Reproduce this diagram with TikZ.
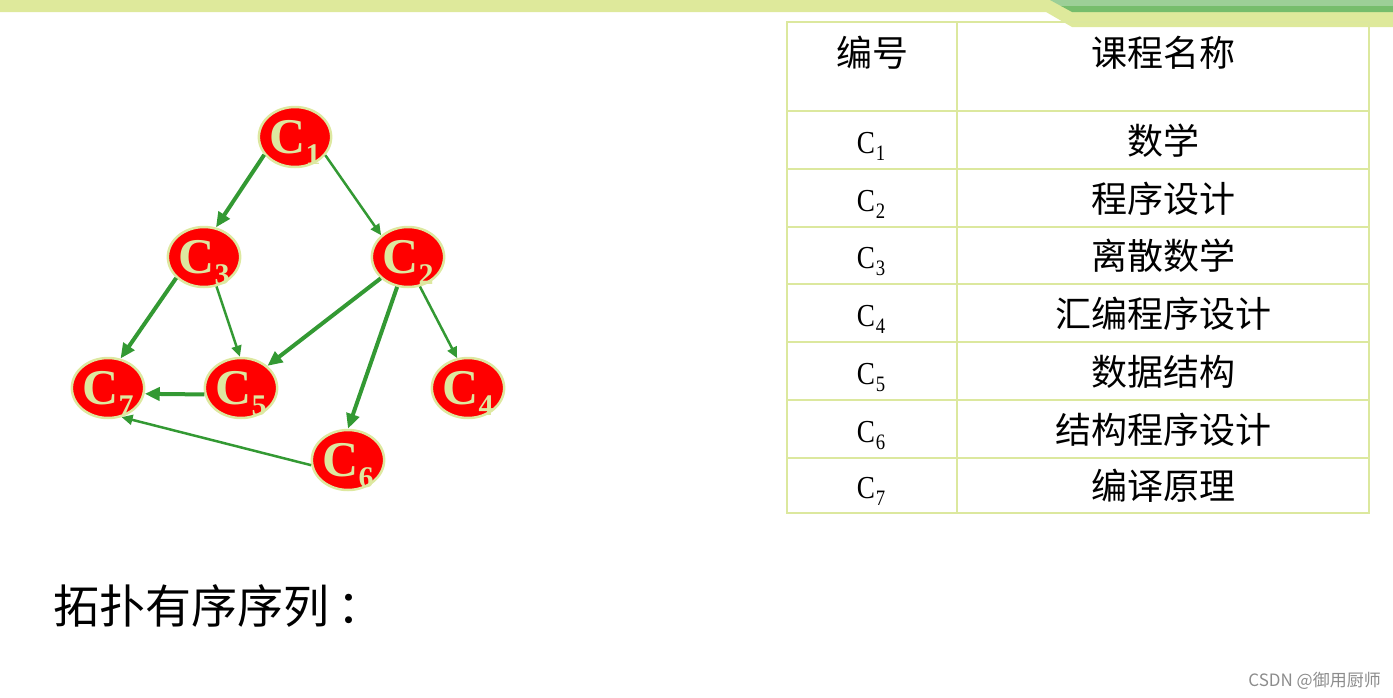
\documentclass[tikz,border=0pt]{standalone}
\usepackage{fontspec}
\newfontfamily\cjk{Noto Sans CJK SC}
\newfontfamily\nodefont{Liberation Serif}
\newfontfamily\tcfont{Liberation Serif}[FakeStretch=0.85]
\usetikzlibrary{shapes.geometric,arrows.meta}
\definecolor{band}{HTML}{DEE99B}
\definecolor{bandmid}{HTML}{9CCF97}
\definecolor{banddark}{HTML}{76BD6C}
\definecolor{pale}{HTML}{DDE8A0}
\definecolor{agreen}{HTML}{339933}
\definecolor{tline}{HTML}{DCE89E}
\newcommand{\cnlabel}[1]{C\kern0pt\smash{\raisebox{-11pt}{\fontsize{30}{30}\selectfont #1}}}
\newcommand{\tcodelabel}[1]{C\kern1pt\raisebox{-7pt}{\fontsize{22}{22}\selectfont #1}}
\begin{document}
\begin{tikzpicture}[x=1pt,y=-1pt,
  cnode/.style={ellipse, draw=pale, line width=2.5pt, fill=red,
    minimum width=72pt, minimum height=60pt, inner sep=0pt, text=pale,
    font=\nodefont\bfseries\fontsize{50}{50}\selectfont},
  thickarr/.style={-{Triangle[length=15pt,width=13pt]}, line width=4pt, draw=agreen},
  thinarr/.style={-{Triangle[length=11pt,width=10pt]}, line width=2.5pt, draw=agreen},
  tline/.style={draw=tline, line width=2.5pt},
  ttext/.style={anchor=base, inner sep=0pt, font=\cjk\fontsize{36}{36}\selectfont},
  tcode/.style={anchor=base, inner sep=0pt, font=\tcfont\fontsize{32}{32}\selectfont}
]
\useasboundingbox (0,0) rectangle (1393,697);
% top banner
\fill[band] (0,0) -- (1393,0) -- (1393,27) -- (1072,27) -- (1046,12) -- (0,12) -- cycle;
\fill[bandmid] (1050,0) -- (1393,0) -- (1393,6) -- (1061,6) -- cycle;
\fill[banddark] (1061,6) -- (1393,6) -- (1393,12) -- (1072,12) -- cycle;

% graph nodes
\node[cnode] (c1) at (295,137) {\cnlabel{1}};
\node[cnode] (c3) at (204,257) {\cnlabel{3}};
\node[cnode] (c2) at (408,257) {\cnlabel{2}};
\node[cnode] (c7) at (108,388) {\cnlabel{7}};
\node[cnode] (c5) at (241,388) {\cnlabel{5}};
\node[cnode] (c4) at (468,388) {\cnlabel{4}};
\node[cnode] (c6) at (348,460) {\cnlabel{6}};

% edges
\draw[thickarr] (c1.210) -- (c3.68);
\draw[thinarr]  (c1.329) -- (c2.141);
\draw[thickarr] (c3.217) -- (c7.67);
\draw[thinarr]  (c3.293) -- (c5.92);
\draw[thickarr] (c2.218) -- (c5.40);
\draw[thickarr] (c2.250) -- (c6.90);
\draw[thinarr]  (c2.292) -- (c4.110);
\draw[thickarr] (c5.190) -- (c7.351);
\draw[thinarr]  (c6.188) -- (c7.295);

% table
\draw[tline] (787,22) rectangle (1369,513);
\draw[tline] (957,22) -- (957,513);
\foreach \yy in {111,169,227,284,342,400,458} {
  \draw[tline] (787,\yy) -- (1369,\yy);
}
\node[ttext] (h1) at (872,66) {编号};
\node[ttext] (h2) at (1163,66) {课程名称};
\node[tcode] (k1) at (871,153) {\tcodelabel{1}};
\node[tcode] (k2) at (871,211) {\tcodelabel{2}};
\node[tcode] (k3) at (871,268) {\tcodelabel{3}};
\node[tcode] (k4) at (871,326) {\tcodelabel{4}};
\node[tcode] (k5) at (871,384) {\tcodelabel{5}};
\node[tcode] (k6) at (871,442) {\tcodelabel{6}};
\node[tcode] (k7) at (871,498) {\tcodelabel{7}};
\node[ttext] (n1) at (1163,154) {数学};
\node[ttext] (n2) at (1163,212) {程序设计};
\node[ttext] (n3) at (1163,269) {离散数学};
\node[ttext] (n4) at (1163,327) {汇编程序设计};
\node[ttext] (n5) at (1163,385) {数据结构};
\node[ttext] (n6) at (1163,443) {结构程序设计};
\node[ttext] (n7) at (1163,499) {编译原理};

% bottom text
\node[anchor=base west, inner sep=0pt, font=\cjk\fontsize{46}{46}\selectfont] (topo) at (53,623) {拓扑有序序列\kern8pt：};
\node[anchor=base east, inner sep=0pt, text=black!45, font=\cjk\fontsize{17}{17}\selectfont] (wm) at (1381,686) {CSDN @御用厨师};
\end{tikzpicture}
\end{document}
